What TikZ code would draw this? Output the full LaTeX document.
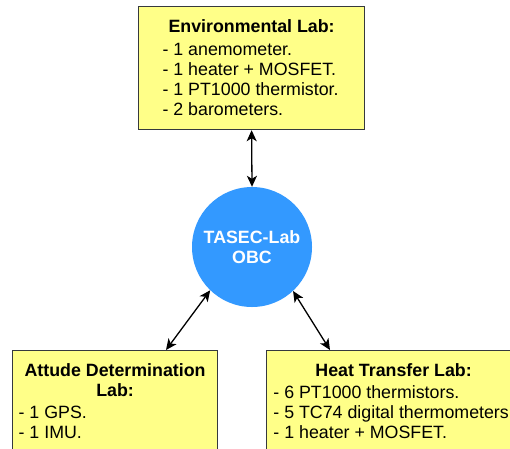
\documentclass[tikz,border=0pt]{standalone}
\usepackage{fontspec}
\setmainfont{Liberation Sans}
\usetikzlibrary{arrows.meta}

\definecolor{labfill}{HTML}{FFFF88}
\definecolor{labedge}{HTML}{36393D}
\definecolor{obcblue}{HTML}{3399FF}

\begin{document}
\begin{tikzpicture}[x=1pt,y=-1pt,
  labbox/.style={draw=labedge, fill=labfill, line width=1.2pt, inner xsep=0pt,
    inner ysep=12pt, text height=14pt, font=\fontsize{17.8}{20}\selectfont},
  obcnode/.style={circle, fill=obcblue, minimum size=120pt, inner sep=0pt,
    text=white, align=center, font=\fontsize{17.8}{20}\selectfont\bfseries},
  link/.style={line width=1.3pt, {Stealth[length=11pt,width=10pt,inset=3pt]}-{Stealth[length=11pt,width=10pt,inset=3pt]}}
]
\useasboundingbox (0,0) rectangle (510,448);
\clip (0,0) rectangle (510,448);
\fill[white] (0,0) rectangle (510,448);

% Environmental lab (top)
\node (env) [labbox, minimum width=226pt, anchor=north west, text depth=85pt]
  at (138,6)
  {\begin{tabular}[t]{@{}l@{}}
   \multicolumn{1}{c}{\bfseries Environmental Lab:}\\[3pt]
   - 1 anemometer.\\
   - 1 heater + MOSFET.\\
   - 1 PT1000 thermistor.\\
   - 2 barometers.
   \end{tabular}};

% On-board computer
\node (obc) [obcnode] at (252,247) {TASEC-Lab\\OBC};

% Attitude determination lab (bottom left)
\node (ad) [labbox, minimum width=205pt, anchor=north west, text depth=110pt]
  at (12,350)
  {\begin{tabular}[t]{@{}l@{}}
   \multicolumn{1}{c}{\bfseries Attude Determination}\\
   \multicolumn{1}{c}{\bfseries Lab:}\\[2pt]
   - 1 GPS.\\
   - 1 IMU.
   \end{tabular}};

% Heat transfer lab (bottom right)
\node (ht) [labbox, minimum width=254pt, anchor=north west, text depth=110pt]
  at (266,350)
  {\begin{tabular}[t]{@{}l@{}}
   \multicolumn{1}{c}{\bfseries Heat Transfer Lab:}\\[2pt]
   - 6 PT1000 thermistors.\\
   - 5 TC74 digital thermometers.\\
   - 1 heater + MOSFET.
   \end{tabular}};

% Connectors
\draw[link] (env.south) -- (obc.north);
\draw[link] (obc.226) -- ([xshift=154pt]ad.north west);
\draw[link] (obc.-47) -- ([xshift=64pt]ht.north west);
\end{tikzpicture}
\end{document}
